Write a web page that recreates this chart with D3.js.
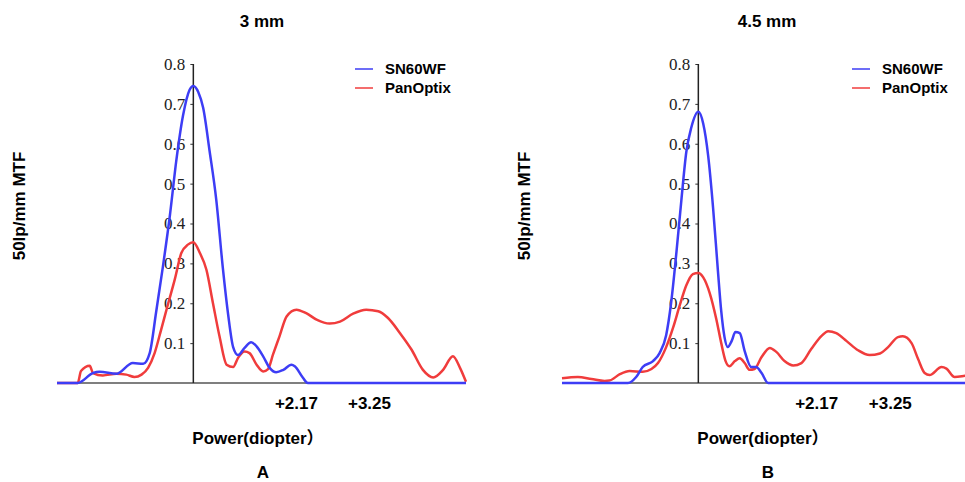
<!DOCTYPE html>
<html>
<head>
<meta charset="utf-8">
<script src="https://cdn.jsdelivr.net/npm/d3@7"></script>
<style>
  body { margin: 0; background: #fff; }
  svg { display: block; }
  .bold { font-family: "Liberation Sans", Arial, "Noto Sans CJK SC", sans-serif; font-weight: bold; fill: #000; }
</style>
</head>
<body>
<svg id="chart" width="965" height="482"></svg>
<script>
// defocus in diopters, MTF values
const panelTitles = ['3 mm', '4.5 mm']
const panelLetters = ['A', 'B']
const seriesNames = ['SN60WF', 'PanOptix']
const yTicks = [0.1, 0.2, 0.3, 0.4, 0.5, 0.6, 0.7, 0.8]
const xLabels3mm = [{ text: '+2.17', at: 1.89 }, { text: '+3.25', at: 3.23 }]
const xLabels45mm = [{ text: '+2.17', at: 2.17 }, { text: '+3.25', at: 3.52 }]

const sn60wf3mm = [
  [-2.5, 0], [-2.12, 0], [-1.84, 0.025], [-1.72, 0.028], [-1.41, 0.023], [-1.11, 0.05],
  [-0.92, 0.048], [-0.8, 0.075], [-0.68, 0.18], [-0.56, 0.29], [-0.43, 0.42], [-0.31, 0.56],
  [-0.19, 0.67], [-0.07, 0.735], [0, 0.745], [0.09, 0.73], [0.18, 0.69], [0.3, 0.58],
  [0.42, 0.46], [0.54, 0.29], [0.64, 0.17], [0.73, 0.09], [0.82, 0.07], [0.94, 0.088],
  [1.06, 0.102], [1.16, 0.092], [1.28, 0.067], [1.4, 0.038], [1.52, 0.027], [1.65, 0.033],
  [1.8, 0.046], [1.86, 0.042], [2.01, 0.013], [2.1, 0], [5, 0]
]
const panoptix3mm = [
  [-2.5, 0], [-2.12, 0], [-2.06, 0.03], [-1.9, 0.043], [-1.84, 0.025], [-1.66, 0.019],
  [-1.41, 0.023], [-1.23, 0.021], [-1.08, 0.015], [-0.95, 0.021], [-0.83, 0.038], [-0.71, 0.075],
  [-0.59, 0.134], [-0.46, 0.2], [-0.34, 0.26], [-0.22, 0.326], [-0.1, 0.347], [0, 0.353],
  [0.12, 0.326], [0.24, 0.284], [0.36, 0.2], [0.48, 0.117], [0.61, 0.046], [0.73, 0.04],
  [0.82, 0.063], [0.94, 0.079], [1.03, 0.075], [1.16, 0.046], [1.28, 0.029], [1.37, 0.035],
  [1.46, 0.071], [1.58, 0.117], [1.71, 0.167], [1.89, 0.184], [2.07, 0.175], [2.26, 0.159],
  [2.5, 0.149], [2.69, 0.154], [2.93, 0.174], [3.17, 0.184], [3.39, 0.18], [3.57, 0.163],
  [3.79, 0.125], [4.0, 0.084], [4.21, 0.033], [4.4, 0.014], [4.58, 0.033], [4.76, 0.067],
  [4.89, 0.038], [5, 0.003]
]
const sn60wf45mm = [
  [-2.5, 0], [-1.29, 0], [-1.14, 0.015], [-1.02, 0.04], [-0.83, 0.055], [-0.71, 0.075],
  [-0.59, 0.12], [-0.5, 0.2], [-0.4, 0.33], [-0.31, 0.46], [-0.22, 0.58], [-0.13, 0.64],
  [0, 0.68], [0.09, 0.65], [0.18, 0.57], [0.27, 0.44], [0.36, 0.28], [0.42, 0.18],
  [0.48, 0.115], [0.54, 0.09], [0.61, 0.105], [0.68, 0.128], [0.76, 0.125], [0.85, 0.08],
  [0.97, 0.04], [1.06, 0.04], [1.16, 0.025], [1.28, 0], [5, 0]
]
const panoptix45mm = [
  [-2.5, 0.012], [-2.21, 0.015], [-1.96, 0.01], [-1.72, 0.005], [-1.63, 0.006], [-1.44, 0.022],
  [-1.26, 0.03], [-1.02, 0.028], [-0.86, 0.035], [-0.74, 0.05], [-0.59, 0.09], [-0.46, 0.14],
  [-0.34, 0.195], [-0.22, 0.245], [-0.1, 0.273], [0, 0.276], [0.09, 0.265], [0.21, 0.225],
  [0.33, 0.16], [0.42, 0.1], [0.5, 0.055], [0.57, 0.042], [0.67, 0.055], [0.76, 0.062],
  [0.85, 0.05], [0.94, 0.033], [1.03, 0.035], [1.16, 0.065], [1.31, 0.088], [1.43, 0.078],
  [1.58, 0.055], [1.74, 0.044], [1.89, 0.05], [2.07, 0.085], [2.26, 0.118], [2.38, 0.13],
  [2.53, 0.125], [2.72, 0.105], [2.93, 0.082], [3.14, 0.07], [3.33, 0.074], [3.48, 0.09],
  [3.66, 0.115], [3.75, 0.117], [3.91, 0.1], [4.03, 0.06], [4.15, 0.025], [4.24, 0.02],
  [4.46, 0.04], [4.55, 0.036], [4.7, 0.015], [4.89, 0.018], [5, 0.02]
]

const colors = { SN60WF: '#3d3df5', PanOptix: '#f03c3c' }
const svg = d3.select('#chart')

const panels = [
  { left: 0, title: panelTitles[0], letter: panelLetters[0], blue: sn60wf3mm, red: panoptix3mm, labels: xLabels3mm, legX: 355 },
  { left: 505, title: panelTitles[1], letter: panelLetters[1], blue: sn60wf45mm, red: panoptix45mm, labels: xLabels45mm, legX: 347 }
]

panels.forEach(p => {
  const g = svg.append('g').attr('transform', `translate(${p.left}, 0)`)

  // x scale: diopters, y scale: MTF
  const x = d3.scaleLinear().domain([-2.5, 5]).range([57, 466])
  const y = d3.scaleLinear().domain([0, 0.8]).range([383, 64])

  // title
  g.append('text')
    .attr('class', 'bold')
    .attr('x', 262).attr('y', 27)
    .attr('text-anchor', 'middle')
    .attr('font-size', 17)
    .text(p.title)

  // x axis baseline
  g.append('line')
    .attr('x1', x(-2.5)).attr('x2', x(5))
    .attr('y1', y(0)).attr('y2', y(0))
    .attr('stroke', '#555').attr('stroke-width', 1.5)

  // y axis at 0 D
  const leftAxis = d3.axisLeft(y).tickValues(yTicks).tickSize(3).tickPadding(5).tickFormat(d3.format('.1f'))
  const yAxis = g.append('g')
    .attr('transform', `translate(${x(0)}, 0)`)
    .call(leftAxis)
  yAxis.select('.domain').remove()
  yAxis.selectAll('line').attr('stroke', '#333')
  yAxis.selectAll('text')
    .attr('fill', '#222')
    .attr('font-size', 17)
    .attr('font-family', '"Liberation Serif", "Times New Roman", serif')
  g.append('line')
    .attr('x1', x(0)).attr('x2', x(0))
    .attr('y1', y(0)).attr('y2', y(0.8))
    .attr('stroke', '#222').attr('stroke-width', 1.5)

  // curves
  const line = d3.line()
    .x(d => x(d[0]))
    .y(d => y(d[1]))
    .curve(d3.curveMonotoneX)
  g.append('path')
    .datum(p.red)
    .attr('d', line)
    .attr('fill', 'none')
    .attr('stroke', colors.PanOptix)
    .attr('stroke-width', 2.5)
  g.append('path')
    .datum(p.blue)
    .attr('d', line)
    .attr('fill', 'none')
    .attr('stroke', colors.SN60WF)
    .attr('stroke-width', 2.5)

  // add power labels
  g.selectAll('.addlab')
    .data(p.labels)
    .enter()
    .append('text')
    .attr('class', 'bold')
    .attr('x', d => x(d.at))
    .attr('y', 409)
    .attr('text-anchor', 'middle')
    .attr('font-size', 17)
    .text(d => d.text)

  // axis titles
  g.append('text')
    .attr('class', 'bold')
    .attr('x', x(0) - 1).attr('y', 444)
    .attr('font-size', 17)
    .text('Power(diopter）')
  g.append('text')
    .attr('class', 'bold')
    .attr('transform', `translate(${25}, ${206}) rotate(-90)`)
    .attr('text-anchor', 'middle')
    .attr('font-size', 17)
    .text('50lp/mm MTF')
  g.append('text')
    .attr('class', 'bold')
    .attr('x', 263).attr('y', 478)
    .attr('text-anchor', 'middle')
    .attr('font-size', 17)
    .text(p.letter)

  // legend
  const legend = g.selectAll('.leg')
    .data(seriesNames)
    .enter()
    .append('g')
    .attr('transform', (d, i) => `translate(${p.legX}, ${69 + i * 19})`)
  legend.append('line')
    .attr('x1', 0).attr('x2', 18)
    .attr('stroke', d => colors[d])
    .attr('stroke-width', 1.5)
  legend.append('text')
    .attr('class', 'bold')
    .attr('x', 30).attr('y', 5)
    .attr('font-size', 15)
    .text(d => d)
})
</script>
</body>
</html>
